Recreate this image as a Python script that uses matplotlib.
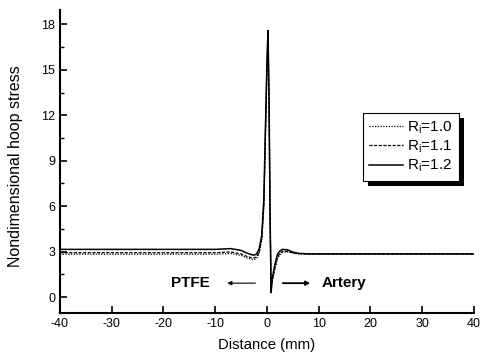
import matplotlib
matplotlib.use("Agg")
import matplotlib.pyplot as plt
from matplotlib.patches import Rectangle

plt.rcParams['font.family'] = ['Liberation Sans', 'DejaVu Sans']
plt.rcParams['axes.unicode_minus'] = False
plt.rcParams['mathtext.default'] = 'regular'

# Data
x = [-40, -20, -10, -7, -5, -4, -3, -2.5, -2, -1.5, -1, -0.6, -0.3, 0, 0.2, 0.4, 0.6, 0.8, 1.0, 1.5, 2, 2.5, 3, 4, 5, 6, 8, 10, 20, 40]
y_r10 = [2.83, 2.83, 2.83, 2.88, 2.75, 2.6, 2.5, 2.48, 2.55, 2.9, 3.8, 6.0, 10.5, 15.0, 17.2, 12.5, 5.0, 0.6, 1.0, 1.8, 2.5, 2.8, 2.95, 2.98, 2.9, 2.86, 2.85, 2.85, 2.85, 2.85]
y_r11 = [2.93, 2.93, 2.93, 2.98, 2.85, 2.7, 2.6, 2.58, 2.65, 3.0, 3.9, 6.2, 10.8, 15.3, 17.4, 12.8, 5.2, 0.5, 1.1, 1.9, 2.6, 2.9, 3.02, 3.02, 2.93, 2.87, 2.85, 2.85, 2.85, 2.85]
y_r12 = [3.15, 3.15, 3.15, 3.2, 3.08, 2.92, 2.8, 2.77, 2.85, 3.2, 4.1, 6.5, 11.2, 15.6, 17.6, 13.0, 5.4, 0.3, 1.2, 2.1, 2.8, 3.05, 3.15, 3.12, 2.97, 2.89, 2.85, 2.85, 2.85, 2.85]
labels = [r'R$_{i}$=1.0', r'R$_{i}$=1.1', r'R$_{i}$=1.2']
xticks = [-40, -30, -20, -10, 0, 10, 20, 30, 40]
yticks = [0, 3, 6, 9, 12, 15, 18]

fig = plt.figure(figsize=(4.81, 3.54), dpi=100)
ax = fig.add_axes([0.1247, 0.1158, 0.8607, 0.856])

ax.plot(x, y_r10, color='black', lw=0.9, ls=(0, (1, 1.2)), label=labels[0])
ax.plot(x, y_r11, color='black', lw=0.9, ls=(0, (2.5, 1.2)), label=labels[1])
ax.plot(x, y_r12, color='black', lw=1.1, ls='-', label=labels[2])

ax.set_xlim(-40, 40)
ax.set_ylim(-1.05, 18.95)
ax.set_xticks(xticks)
ax.set_xticklabels([str(v) for v in xticks])
ax.set_yticks(yticks)
ax.set_yticks([1.5, 4.5, 7.5, 10.5, 13.5, 16.5], minor=True)
for s in ['top', 'right']:
    ax.spines[s].set_visible(False)
for s in ['left', 'bottom']:
    ax.spines[s].set_linewidth(1.5)
ax.tick_params(axis='both', which='major', direction='in', length=5, width=1.2, labelsize=9)
ax.tick_params(axis='y', which='minor', direction='in', length=3, width=1.0)
ax.set_xlabel('Distance (mm)', fontsize=10.7, labelpad=6)
ax.set_ylabel('Nondimensional hoop stress', fontsize=11.5, labelpad=8)
ax.yaxis.set_label_coords(-0.09, 0.485)

# annotations
ax.text(-11.0, 0.92, 'PTFE', fontsize=11, fontweight='bold', ha='right', va='center')
ax.annotate('', xy=(-8.2, 0.92), xytext=(-1.7, 0.92),
            arrowprops=dict(arrowstyle='-|>', color='black', lw=0.8, mutation_scale=6))
ax.text(10.6, 0.92, 'Artery', fontsize=11, fontweight='bold', ha='left', va='center')
ax.annotate('', xy=(8.9, 0.92), xytext=(2.5, 0.92),
            arrowprops=dict(arrowstyle='-|>', color='black', lw=1.3, mutation_scale=6))

leg = ax.legend(loc='upper left', bbox_to_anchor=(0.732, 0.66), frameon=True, fancybox=False,
                framealpha=1, fontsize=11, handlelength=2.2, handletextpad=0.3, labelspacing=0.2,
                borderpad=0.4, borderaxespad=0)
leg.get_frame().set_edgecolor('black')
leg.get_frame().set_linewidth(0.8)
leg.set_zorder(6)

fig.canvas.draw()
bb = leg.get_window_extent()
inv = ax.transAxes.inverted()
off = 5
(ax0, ay0) = inv.transform((bb.x0 + off, bb.y0 - off))
(ax1, ay1) = inv.transform((bb.x1 + off, bb.y1 - off))
shadow = Rectangle((ax0, ay0), ax1 - ax0, ay1 - ay0, transform=ax.transAxes,
                   facecolor='black', edgecolor='none', zorder=5, clip_on=False)
ax.add_patch(shadow)

fig.savefig('out.png', dpi=100)
